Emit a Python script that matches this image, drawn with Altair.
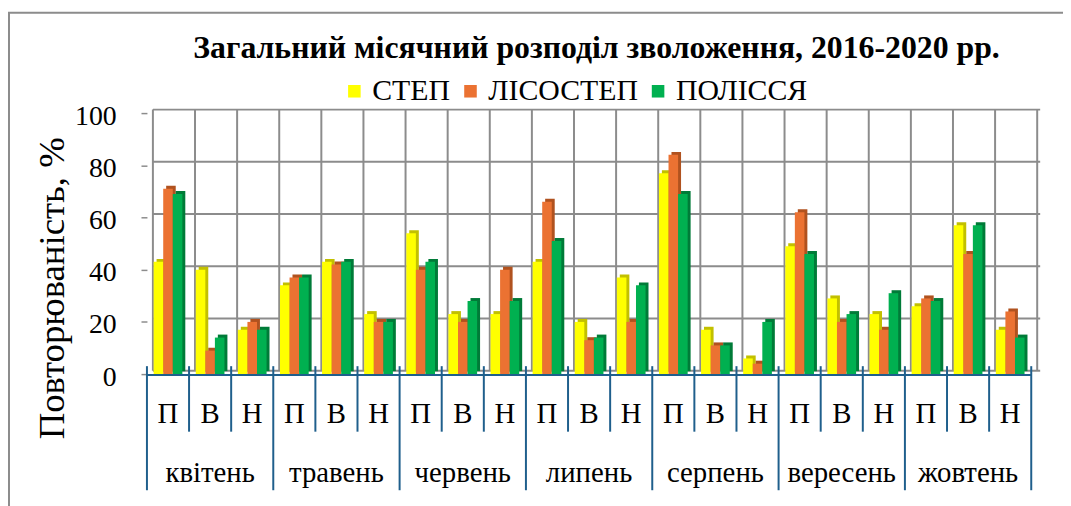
import altair as alt
import pandas as pd

months = ["квітень", "травень", "червень", "липень", "серпень", "вересень", "жовтень"]
subs = ["П", "В", "Н"]
series = ["СТЕП", "ЛІСОСТЕП", "ПОЛІССЯ"]
step_vals = [43, 40, 17, 34, 43, 23, 54, 23, 23, 43, 20, 37, 77, 17, 6, 49, 29, 23, 26, 57, 17]
lisostep_vals = [71, 9, 20, 37, 42, 20, 40, 20, 40, 66, 13, 20, 84, 11, 4, 62, 20, 17, 29, 46, 24]
polissia_vals = [69, 14, 17, 37, 43, 20, 43, 28, 28, 51, 14, 34, 69, 11, 20, 46, 23, 31, 28, 57, 14]
y_ticks = [0, 20, 40, 60, 80, 100]
title_text = "Загальний місячний розподіл зволоження, 2016-2020 рр."
y_title = "Повторюваність, %"

colors = ["#FFFF00", "#EB7232", "#00B050"]
shade_colors = ["#C2C000", "#B0521F", "#007B38"]
GRID = "#8C8C8C"
BLUE = "#1F5F8C"
FONT = "Liberation Serif"
W, H = 891, 263

cats = [f"{m}|{s}" for m in months for s in subs]
rows = []
for name, vals in zip(series, [step_vals, lisostep_vals, polissia_vals]):
    for c, v in zip(cats, vals):
        rows.append({"cat": c, "series": name, "value": v})
df = pd.DataFrame(rows)
cat_df = pd.DataFrame({
    "cat": cats,
    "sub": [s for m in months for s in subs],
    "month": [m for m in months for s in subs],
})
tick_df = pd.DataFrame({"value": y_ticks})
one = pd.DataFrame({"k": [0]})

xscale = alt.Scale(domain=cats, paddingInner=0, paddingOuter=0)


def X(**kw):
    return alt.X("cat:N", sort=cats, scale=xscale, axis=None, **kw)


yscale = alt.Scale(domain=[0, 100])
y_axis = alt.Axis(values=y_ticks, grid=False, domain=False, ticks=True,
                  tickColor=GRID, tickSize=6, tickWidth=1.5,
                  labelFont=FONT, labelFontSize=28, labelColor="black",
                  labelPadding=25, labelOffset=3,
                  title=y_title, titleFont=FONT, titleFontSize=37,
                  titleFontWeight="normal", titleColor="black",
                  titleX=-95, titleY=176, titleAngle=-90,
                  titleAlign="center", titleBaseline="middle")


def Y():
    return alt.Y("value:Q", scale=yscale, axis=y_axis, title=y_title)


border = alt.Chart(one).mark_rect(fillOpacity=0, stroke=GRID, strokeWidth=2).encode(
    x=alt.value(-139), x2=alt.value(W + 100), y=alt.value(-101), y2=alt.value(H + 200)
)

hgrid = alt.Chart(tick_df).mark_rule(color=GRID, strokeWidth=2, yOffset=-3.5).encode(
    y=Y(), x=alt.value(6), x2=alt.value(W + 9),
)

vgrid = alt.Chart(cat_df).mark_rule(color=GRID, strokeWidth=2, xOffset=6).encode(
    x=X(bandPosition=0), y=alt.value(-3.5), y2=alt.value(H - 3.5)
)
vgrid_end = alt.Chart(cat_df.tail(1)).mark_rule(color=GRID, strokeWidth=2, xOffset=6).encode(
    x=X(bandPosition=1), y=alt.value(-3.5), y2=alt.value(H - 3.5)
)

shade = alt.Chart(df).mark_bar(yOffset=-3).encode(
    x=X(),
    xOffset=alt.XOffset("series:N", sort=series,
                        scale=alt.Scale(domain=series, paddingOuter=0.7, align=0.72)),
    y=Y(),
    color=alt.Color("series:N", sort=series,
                    scale=alt.Scale(domain=series, range=shade_colors), legend=None),
)

bars = alt.Chart(df).mark_bar().encode(
    x=X(),
    xOffset=alt.XOffset("series:N", sort=series,
                        scale=alt.Scale(domain=series, paddingOuter=0.7, align=0.5)),
    y=Y(),
    color=alt.Color("series:N", sort=series,
                    scale=alt.Scale(domain=series, range=colors),
                    legend=alt.Legend(orient="none", legendX=194, legendY=-37,
                                      direction="horizontal", title=None,
                                      symbolType="square", symbolSize=160,
                                      symbolStrokeWidth=0, labelFont=FONT,
                                      labelFontSize=30, labelColor="black",
                                      labelLimit=0,
                                      labelOffset=3, columnPadding=5, padding=0)),
)

axis_line = alt.Chart(one).mark_rule(color=BLUE, strokeWidth=2).encode(
    x=alt.value(0), x2=alt.value(W), y=alt.value(H + 1)
)

sep_short = alt.Chart(cat_df[cat_df["sub"] != "П"]).mark_rule(color=BLUE, strokeWidth=2).encode(
    x=X(bandPosition=0), y=alt.value(H - 8), y2=alt.value(H + 58)
)
sep_long = alt.Chart(cat_df[cat_df["sub"] == "П"]).mark_rule(color=BLUE, strokeWidth=2).encode(
    x=X(bandPosition=0), y=alt.value(H - 8), y2=alt.value(H + 117)
)
sep_end = alt.Chart(cat_df.tail(1)).mark_rule(color=BLUE, strokeWidth=2).encode(
    x=X(bandPosition=1), y=alt.value(H - 8), y2=alt.value(H + 117)
)

sub_labels = alt.Chart(cat_df).mark_text(font=FONT, fontSize=29, color="black",
                                         baseline="middle", align="center").encode(
    x=X(), y=alt.value(H + 40), text="sub:N"
)
month_labels = alt.Chart(cat_df[cat_df["sub"] == "В"]).mark_text(
    font=FONT, fontSize=29, color="black", baseline="middle", align="center").encode(
    x=X(), y=alt.value(H + 100), text="month:N"
)

title = alt.Chart(one).mark_text(font=FONT, fontSize=32, fontWeight="bold", color="black",
                                 baseline="alphabetic", align="center").encode(
    x=alt.value(453), y=alt.value(-56), text=alt.value(title_text)
)

chart = alt.layer(
    border, hgrid, vgrid, vgrid_end, shade, bars, axis_line,
    sep_short, sep_long, sep_end, sub_labels, month_labels, title
).resolve_scale(xOffset="independent", color="independent").properties(
    width=W, height=H,
    autosize=alt.AutoSizeParams(type="none"),
    padding={"left": 140, "top": 104, "right": 32, "bottom": 131},
).configure(
    background="white", font=FONT
).configure_view(
    stroke=None
).configure_axis(
    labelFont=FONT, titleFont=FONT
).configure_legend(
    labelFont=FONT
)

chart.save("out.html", embed_options={"renderer": "svg", "actions": False})
